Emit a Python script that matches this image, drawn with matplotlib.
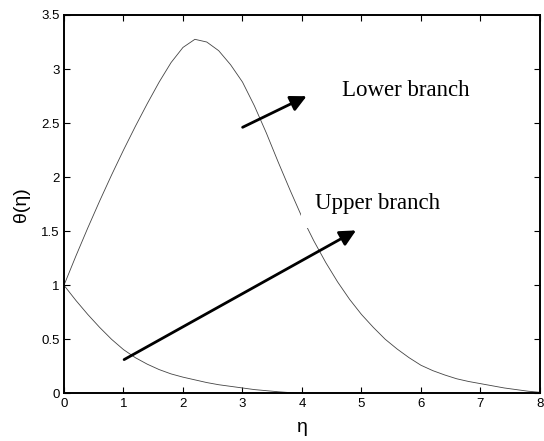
import matplotlib.pyplot as plt
import numpy as np

# lower branch solution
eta_low = [0.0, 0.2, 0.4, 0.6, 0.8, 1.0, 1.2, 1.4, 1.6, 1.8, 2.0, 2.2, 2.4, 2.6,
           2.8, 3.0, 3.2, 3.4, 3.6, 3.8, 4.0, 4.2, 4.4, 4.6, 4.8, 5.0, 5.2, 5.4,
           5.6, 5.8, 6.0, 6.2, 6.4, 6.6, 6.8, 7.0, 7.2, 7.4, 7.6, 7.8, 8.0]
theta_low = [1.00, 1.27, 1.53, 1.78, 2.02, 2.25, 2.47, 2.68, 2.88, 3.06, 3.20,
             3.275, 3.25, 3.17, 3.04, 2.88, 2.66, 2.41, 2.14, 1.88, 1.63, 1.41,
             1.21, 1.03, 0.87, 0.73, 0.61, 0.50, 0.41, 0.33, 0.26, 0.21, 0.17,
             0.135, 0.11, 0.09, 0.07, 0.05, 0.035, 0.02, 0.01]

# upper branch solution
eta_up = [0.0, 0.2, 0.4, 0.6, 0.8, 1.0, 1.2, 1.4, 1.6, 1.8, 2.0, 2.2, 2.4, 2.6,
          2.8, 3.0, 3.2, 3.4, 3.6, 3.8, 4.0]
theta_up = [1.00, 0.86, 0.73, 0.61, 0.50, 0.405, 0.33, 0.27, 0.22, 0.18, 0.15,
            0.125, 0.10, 0.08, 0.065, 0.05, 0.035, 0.025, 0.015, 0.007, 0.0]

fig = plt.figure(figsize=(5.44, 4.41), dpi=100)
ax = fig.add_axes([0.1176, 0.108, 0.875, 0.858])

ax.plot(eta_low, theta_low, color='#444444', lw=0.6)
ax.plot(eta_up, theta_up, color='#444444', lw=0.6)

ax.set_xlim(0, 8)
ax.set_ylim(0, 3.5)
ax.set_xticks(range(0, 9))
ax.set_yticks([0, 0.5, 1, 1.5, 2, 2.5, 3, 3.5])
ax.set_yticklabels(['0', '0.5', '1', '1.5', '2', '2.5', '3', '3.5'])
ax.tick_params(direction='in', top=True, right=True, length=4, width=0.8,
               labelsize=9.5, pad=3)
for lab in ax.get_xticklabels() + ax.get_yticklabels():
    lab.set_fontfamily('Liberation Sans')
for s in ax.spines.values():
    s.set_linewidth(1.4)

ax.set_xlabel('η', fontsize=14, family='Liberation Sans', labelpad=7)
ax.set_ylabel('θ(η)', fontsize=14, family='Liberation Sans', labelpad=8)

# arrows + labels
ax.annotate('', xy=(4.12, 2.76), xytext=(2.96, 2.45),
            arrowprops=dict(arrowstyle='-|>', lw=2, color='k', mutation_scale=24))
ax.annotate('', xy=(4.95, 1.52), xytext=(0.97, 0.30),
            arrowprops=dict(arrowstyle='-|>', lw=2, color='k', mutation_scale=24))

ax.text(4.67, 2.8, 'Lower branch', fontsize=16.5, family='Liberation Serif',
        va='center', ha='left')
ax.text(4.22, 1.76, 'Upper branch', fontsize=16.5, family='Liberation Serif',
        va='center', ha='left', zorder=5,
        bbox=dict(facecolor='white', edgecolor='none', pad=10))

fig.savefig('out.png', dpi=100)
